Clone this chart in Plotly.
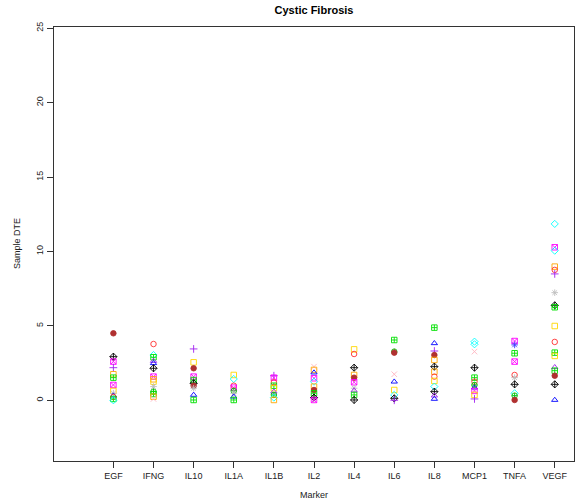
import plotly.graph_objects as go

markers = ["EGF", "IFNG", "IL10", "IL1A", "IL1B", "IL2", "IL4", "IL6", "IL8", "MCP1", "TNFA", "VEGF"]

egf_vals = [4.50, 2.93, 2.60, 2.19, 1.75, 1.52, 1.03, 0.63, 0.47, 0.31, 0.22, 0.09, 0.0]
egf_sty = ["brown_dot", "black_dp", "mag_sx", "purple_plus", "orange_sq", "green_sp", "mag_sx", "yellow_sq", "gray_ast", "blue_tri", "red_o", "green_sp", "cyan_dia"]

ifng_vals = [3.78, 3.04, 2.89, 2.64, 2.49, 2.15, 1.59, 1.41, 1.25, 0.92, 0.58, 0.42, 0.24, 0.09]
ifng_sty = ["red_o", "cyan_dia", "green_sp", "purple_tri", "blue_tri", "black_dp", "mag_sx", "orange_sq", "yellow_sq", "gray_ast", "green_cp", "green_sp", "orange_sq", "pink_x"]

il10_vals = [3.45, 2.55, 2.15, 1.59, 1.36, 1.14, 0.98, 0.81, 0.36, 0.02]
il10_sty = ["purple_plus", "yellow_sq", "brown_dot", "mag_sx", "green_sp", "black_dp", "brown_dot", "gray_ast", "blue_tri", "green_sp"]

il1a_vals = [1.70, 1.43, 0.98, 0.85, 0.63, 0.47, 0.24, 0.02]
il1a_sty = ["yellow_sq", "cyan_dia", "red_o", "mag_sx", "green_cp", "gray_ast", "blue_tri", "green_sp"]

il1b_vals = [1.65, 1.52, 1.21, 0.98, 0.81, 0.58, 0.36, 0.18, 0.02]
il1b_sty = ["purple_plus", "mag_sx", "red_o", "green_sp", "yellow_sq", "purple_tri", "green_cp", "cyan_dia", "orange_sq"]

il2_vals = [2.26, 2.04, 1.86, 1.48, 1.25, 0.92, 0.69, 0.47, 0.18, 0.02]
il2_sty = ["pink_x", "orange_sq", "blue_tri", "mag_sx", "cyan_dia", "orange_sq", "brown_dot", "green_sp", "black_dp", "mag_sx"]

il4_vals = [3.42, 3.11, 2.19, 1.70, 1.52, 1.21, 0.81, 0.65, 0.36, 0.02]
il4_sty = ["yellow_sq", "red_o", "black_dp", "orange_sq", "brown_dot", "mag_sx", "gray_ast", "purple_tri", "green_sp", "black_dp"]

il6_vals = [4.05, 3.27, 3.20, 1.75, 1.25, 0.69, 0.36, 0.13, 0.0]
il6_sty = ["green_sp", "green_cp", "brown_dot", "pink_x", "blue_tri", "yellow_sq", "cyan_dia", "black_dp", "purple_plus"]

il8_vals = [4.88, 3.83, 3.31, 3.04, 2.71, 2.26, 1.92, 1.59, 1.30, 0.92, 0.58, 0.31, 0.09]
il8_sty = ["green_sp", "blue_tri", "purple_plus", "brown_dot", "orange_sq", "black_dp", "orange_sq", "red_o", "yellow_sq", "cyan_dia", "black_dp", "purple_tri", "blue_tri"]

mcp1_vals = [3.94, 3.76, 3.27, 2.19, 1.52, 1.25, 1.03, 0.85, 0.63, 0.36, 0.09]
mcp1_sty = ["cyan_dia", "cyan_dia", "pink_x", "black_dp", "green_sp", "red_o", "green_cp", "blue_tri", "mag_sx", "yellow_sq", "purple_plus"]

tnfa_vals = [3.98, 3.72, 3.16, 2.60, 1.70, 1.52, 1.07, 0.47, 0.31, 0.02]
tnfa_sty = ["mag_sx", "blue_ast", "green_sp", "mag_sx", "red_o", "gray_ast", "black_dp", "cyan_dia", "green_cp", "brown_dot"]

vegf_vals = [11.85, 10.28, 10.05, 8.98, 8.76, 8.49, 7.23, 6.38, 6.25, 4.99, 3.92, 3.20, 2.98, 2.22, 1.99, 1.65, 1.07, 0.02]
vegf_sty = ["cyan_dia", "mag_sx", "cyan_dia", "orange_sq", "red_o", "purple_plus", "gray_ast", "black_dp", "green_sp", "yellow_sq", "red_o", "green_sp", "yellow_sq", "purple_tri", "green_sp", "brown_dot", "black_dp", "blue_tri"]

y_ticks = [0, 5, 10, 15, 20, 25]

all_vals = [egf_vals, ifng_vals, il10_vals, il1a_vals, il1b_vals, il2_vals,
            il4_vals, il6_vals, il8_vals, mcp1_vals, tnfa_vals, vegf_vals]
all_sty = [egf_sty, ifng_sty, il10_sty, il1a_sty, il1b_sty, il2_sty,
           il4_sty, il6_sty, il8_sty, mcp1_sty, tnfa_sty, vegf_sty]

# style key -> (plotly symbol, colour)
styles = {
    "red_o": ("circle-open", "#FF3030"),
    "brown_dot": ("circle", "#B03030"),
    "black_dp": ("diamond-cross-open", "#000000"),
    "mag_sx": ("square-x-open", "#FF00FF"),
    "purple_plus": ("cross-thin-open", "#A020F0"),
    "orange_sq": ("square-open", "#FFA500"),
    "green_sp": ("square-cross-open", "#00E000"),
    "yellow_sq": ("square-open", "#FFD700"),
    "blue_tri": ("triangle-up-open", "#0000FF"),
    "cyan_dia": ("diamond-open", "#00FFFF"),
    "gray_ast": ("asterisk-open", "#BEBEBE"),
    "pink_x": ("x-thin-open", "#FFB6C1"),
    "green_cp": ("circle-cross-open", "#00C000"),
    "purple_tri": ("triangle-up-open", "#A020F0"),
    "blue_ast": ("asterisk-open", "#4040FF"),
}

fig = go.Figure()
for i, (vals, sty) in enumerate(zip(all_vals, all_sty)):
    xs = [i + 1] * len(vals)
    fig.add_trace(go.Scatter(
        x=xs, y=vals, mode="markers",
        marker=dict(
            symbol=[styles[s][0] for s in sty],
            color=[styles[s][1] for s in sty],
            size=5.5,
            line=dict(width=0.9, color=[styles[s][1] for s in sty]),
        ),
        showlegend=False, hoverinfo="skip",
    ))

font_fam = "Liberation Sans, Arial, sans-serif"
fig.update_layout(
    width=576, height=504,
    margin=dict(l=54, r=2, t=27, b=43),
    paper_bgcolor="white", plot_bgcolor="white",
    font=dict(family=font_fam, size=9, color="#222222"),
    title=dict(text="<b>Cystic Fibrosis</b>", x=0.5, xref="paper",
               y=(504 - 10) / 504, yref="container", yanchor="middle",
               font=dict(size=11, color="#000000", family=font_fam)),
    xaxis=dict(range=[-0.48, 12.48], tickmode="array",
               tickvals=list(range(1, len(markers) + 1)), ticktext=markers,
               showgrid=False, zeroline=False, showline=True, mirror=True,
               linecolor="#333333", linewidth=1, ticks="outside", ticklen=6,
               tickcolor="#333333", tickfont=dict(size=9)),
    yaxis=dict(range=[-4.08, 25.08], tickmode="array", tickvals=y_ticks,
               showgrid=False, zeroline=False, showline=True, mirror=True,
               linecolor="#333333", linewidth=1, ticks="outside", ticklen=6,
               tickcolor="#333333", tickangle=-90, tickfont=dict(size=9)),
    annotations=[
        dict(text="Marker", x=0.5, y=-34 / 434, xref="paper", yref="paper",
             xanchor="center", yanchor="middle", showarrow=False,
             font=dict(size=9, color="#222222")),
        dict(text="Sample DTE", x=(17 - 54) / 520, y=0.5, xref="paper", yref="paper",
             showarrow=False, textangle=-90,
             xanchor="center", yanchor="middle",
             font=dict(size=9, color="#222222")),
    ],
)

fig.write_html("out.html")
